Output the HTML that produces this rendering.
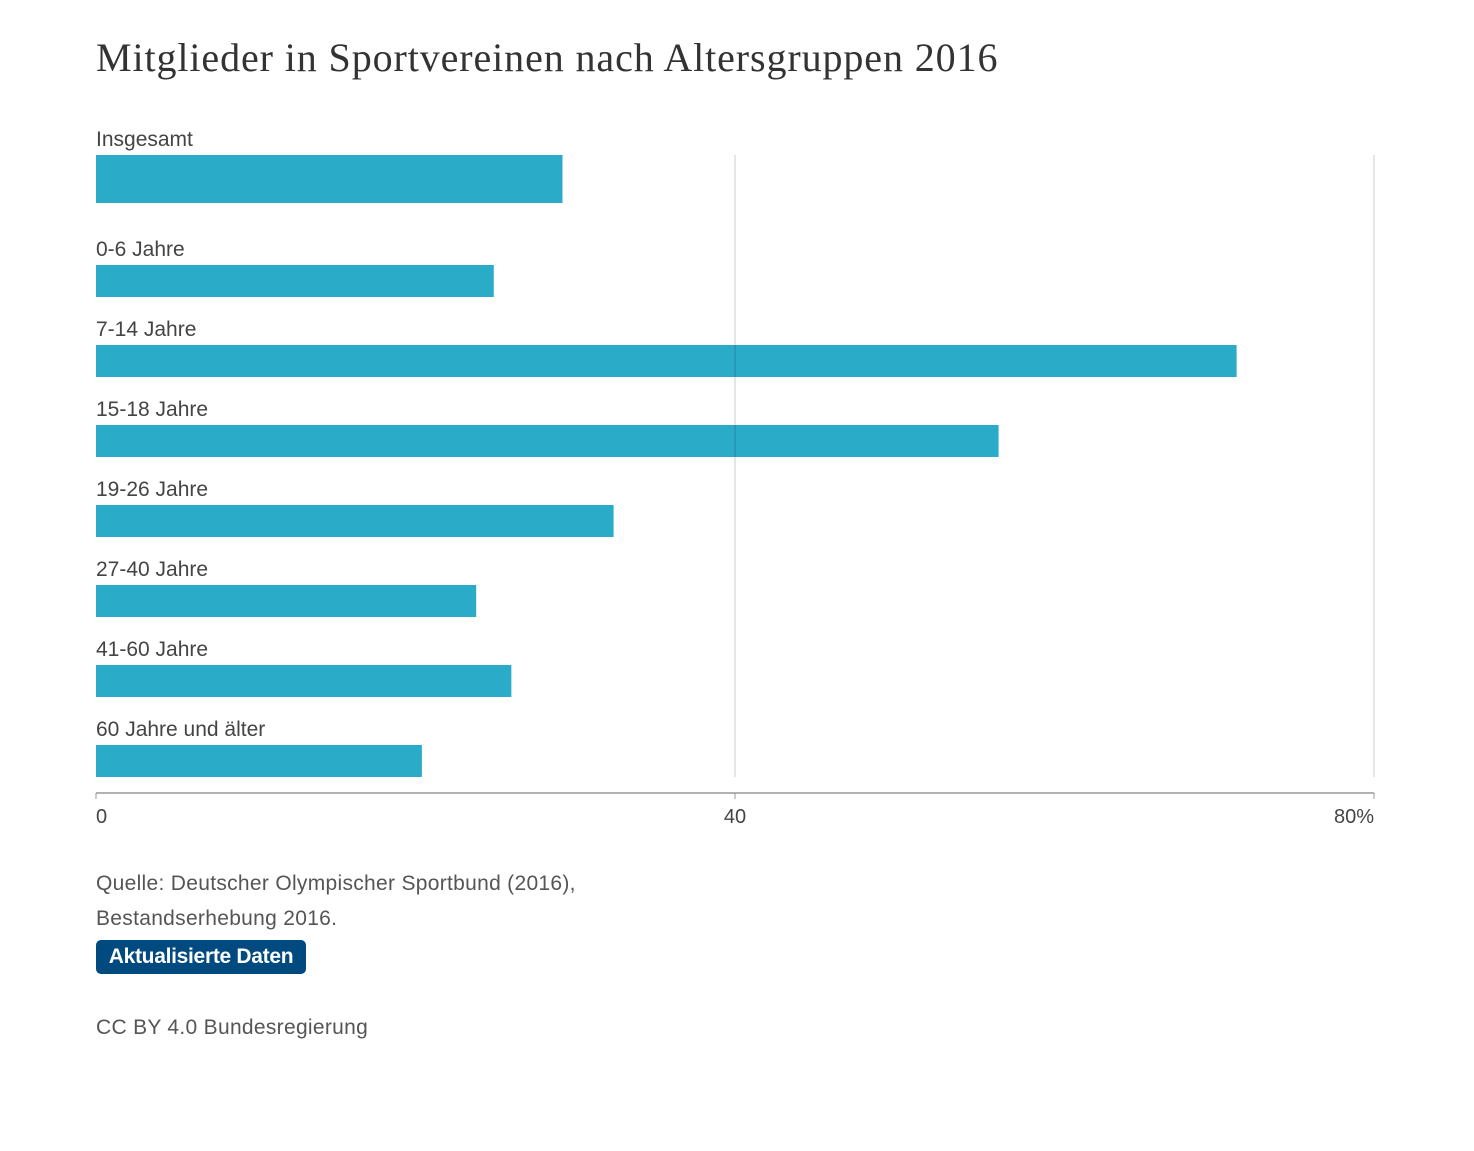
<!DOCTYPE html>
<html><head><meta charset="utf-8"><style>
body{margin:0;background:#fff;width:1474px;height:1151px;overflow:hidden;font-family:"Liberation Sans",sans-serif;}
#title{position:absolute;left:96px;top:34px;font-family:"Liberation Serif",serif;font-size:40px;color:#333;margin:0;font-weight:normal;white-space:nowrap;letter-spacing:0.9px}
.src{position:absolute;left:96px;font-size:21px;color:#555;white-space:nowrap;letter-spacing:0.3px}
#btn{position:absolute;left:96px;top:940px;width:210px;height:34px;background:#004a7f;border-radius:5px;color:#fff;font-weight:bold;font-size:21px;line-height:34px;text-align:center;letter-spacing:-0.3px}
</style></head><body>
<h1 id="title">Mitglieder in Sportvereinen nach Altersgruppen 2016</h1>
<svg id="chart" width="1474" height="860" style="position:absolute;left:0;top:0"></svg>
<div class="src" style="top:872px">Quelle: Deutscher Olympischer Sportbund (2016),</div>
<div class="src" style="top:907px">Bestandserhebung 2016.</div>
<div id="btn">Aktualisierte Daten</div>
<div class="src" style="top:1016px">CC BY 4.0 Bundesregierung</div>
<script>
const categories=["Insgesamt","0-6 Jahre","7-14 Jahre","15-18 Jahre","19-26 Jahre","27-40 Jahre","41-60 Jahre","60 Jahre und älter"];
const values=[29.2,24.9,71.4,56.5,32.4,23.8,26.0,20.4];
const tickValues=[0,40,80];
const tickLabels=["0","40","80%"];
const NS="http://www.w3.org/2000/svg";
const svg=document.getElementById('chart');
const x0=96,x1=1374,xmax=80;
const x=v=>x0+(x1-x0)*v/xmax;
function mk(t,a){const e=document.createElementNS(NS,t);for(const k in a)e.setAttribute(k,a[k]);svg.appendChild(e);return e;}
categories.forEach((c,i)=>{
  const top=i===0?155:265+(i-1)*80;
  const h=i===0?48:32;
  const lab=mk('text',{x:x0,y:top-9,'font-size':21,fill:'#444','font-family':'Liberation Sans, sans-serif'});
  lab.textContent=c;
  
  
  const r=mk('rect',{x:x0,y:top,width:x(values[i])-x0,height:h,fill:'#2aabc8'});
  
  
});
tickValues.forEach((t,i)=>{
  if(t>0){const g=mk('line',{x1:x(t),x2:x(t),y1:155,y2:777,stroke:'rgba(0,0,0,0.13)','stroke-width':1.5});
    
    }
  const tk=mk('line',{x1:x(t),x2:x(t),y1:793,y2:799,stroke:'#999','stroke-width':1});
  
  
  const anchor=i===0?'start':(i===tickValues.length-1?'end':'middle');
  const tl=mk('text',{x:x(t),y:823,'font-size':20,fill:'#444','text-anchor':anchor,'font-family':'Liberation Sans, sans-serif'});
  tl.textContent=tickLabels[i];
  
  
});
const ax=mk('line',{x1:x0,x2:x1,y1:793,y2:793,stroke:'#999','stroke-width':1.5});


</script>
</body></html>
